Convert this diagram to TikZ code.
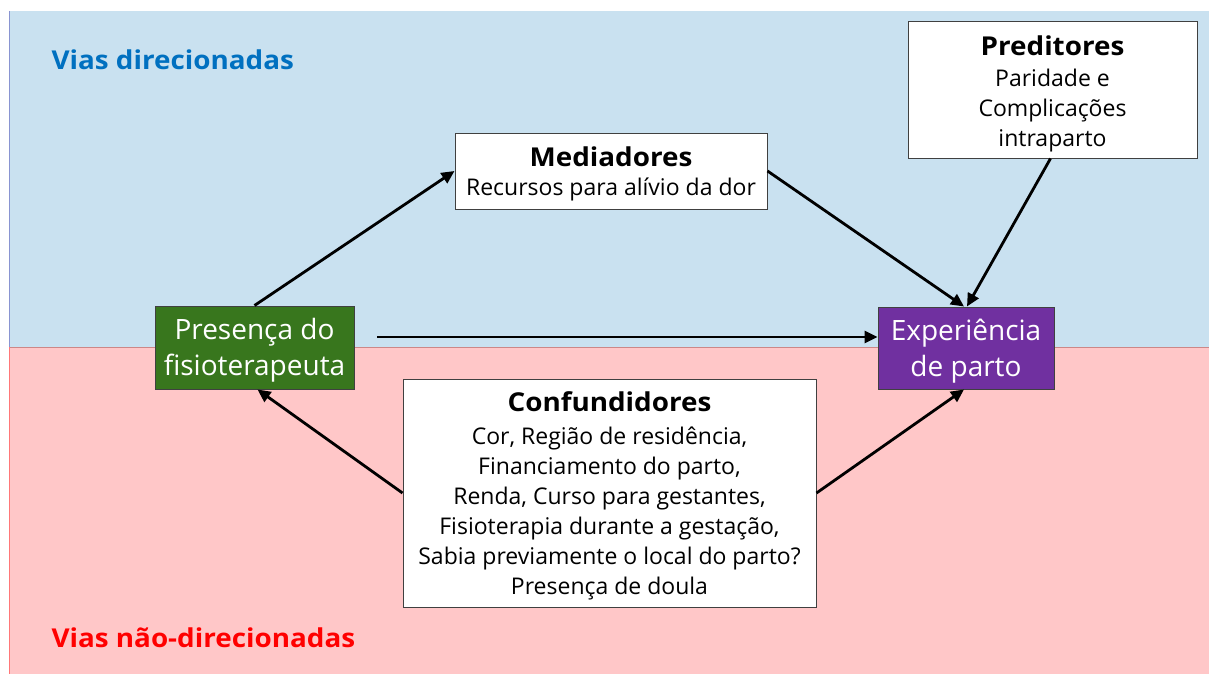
\documentclass[tikz,border=0pt]{standalone}
\usepackage{fontspec}
\setmainfont{Open Sans}
\usetikzlibrary{arrows.meta}
\definecolor{bgblue}{RGB}{201,225,240}
\definecolor{bgpink}{RGB}{255,199,200}
\definecolor{boxgreen}{RGB}{56,118,29}
\definecolor{boxpurple}{RGB}{112,48,160}
\definecolor{viasblue}{RGB}{0,112,192}
\definecolor{viasred}{RGB}{255,0,0}
\definecolor{edgegray}{RGB}{64,64,64}
\newcommand{\boxtitle}[1]{\scalebox{1.07}[1]{\bfseries\fontsize{26}{30}\selectfont #1}}
\tikzset{
  x=1pt, y=-1pt,
  whitebox/.style={draw=edgegray, line width=1pt, fill=white, inner sep=0pt},
  colbox/.style={draw=edgegray, line width=1pt, inner sep=0pt},
  bodytext/.style={align=center, inner sep=0pt, font=\fontsize{23}{30}\selectfont},
  coltext/.style={align=center, inner sep=0pt, text=white, font=\fontsize{28}{36}\selectfont},
  arr/.style={line width=2.8pt, -{Triangle[length=13pt,width=12pt]}},
  vias/.style={anchor=west, font=\fontsize{26}{30}\selectfont\bfseries},
}
\begin{document}
\begin{tikzpicture}
\useasboundingbox (0,0) rectangle (1209,674);
\fill[bgblue] (9,11) rectangle (1209,347);
\fill[bgpink] (9,347) rectangle (1209,674);
\draw[bgpink!70!red!60!gray, line width=0.8pt] (9,347) -- (1209,347);
\draw[bgblue!70!blue!70!gray, line width=0.8pt] (9,11) -- (9,347);
\draw[bgpink!60!red, line width=0.8pt] (9,347) -- (9,674);

\node[vias, text=viasblue] (vd) at (48,60) {\scalebox{1.07}[1]{Vias direcionadas}};
\node[vias, text=viasred] (vnd) at (48,638) {\scalebox{1.07}[1]{Vias não-direcionadas}};

\node[whitebox, minimum width=312pt, minimum height=76pt] (med) at (611,171) {};
\node[bodytext] (medt) at ([yshift=-3pt]med.center)
  {\boxtitle{Mediadores}\\[-1pt]Recursos para alívio da dor};
\node[whitebox, minimum width=289pt, minimum height=136pt] (pred) at (1052.5,90) {};
\node[bodytext] (predt) at ([yshift=-3.5pt]pred.center)
  {\boxtitle{Preditores}\\[1pt]Paridade e\\Complicações\\intraparto};
\node[whitebox, minimum width=413pt, minimum height=228pt] (conf) at (609.5,493) {};
\node[bodytext] (conft) at ([yshift=-2.5pt]conf.center)
  {\boxtitle{Confundidores}\\[3pt]Cor, Região de residência,\\Financiamento do parto,\\Renda, Curso para gestantes,\\Fisioterapia durante a gestação,\\Sabia previamente o local do parto?\\Presença de doula};
\node[colbox, fill=boxgreen, minimum width=199pt, minimum height=83pt] (pres) at (254.5,347.5) {};
\node[coltext] (prest) at ([yshift=-3pt]pres.center) {Presença do\\fisioterapeuta};
\node[colbox, fill=boxpurple, minimum width=176pt, minimum height=82pt] (exp) at (966,348) {};
\node[coltext] (expt) at ([yshift=-3pt]exp.center) {Experiência\\de parto};

\coordinate (hstart) at (377,337);
\draw[arr] (pres.north) -- (med.west);
\draw[arr] (med.east) -- ([xshift=-2pt]exp.north);
\draw[arr] ([xshift=-2pt]pred.south) -- ([xshift=1pt]exp.north);
\draw[arr] (hstart) -- (hstart -| exp.west);
\draw[arr] (conf.west) -- ([xshift=3pt]pres.south);
\draw[arr] (conf.east) -- ([xshift=-2pt]exp.south);
\end{tikzpicture}
\end{document}
